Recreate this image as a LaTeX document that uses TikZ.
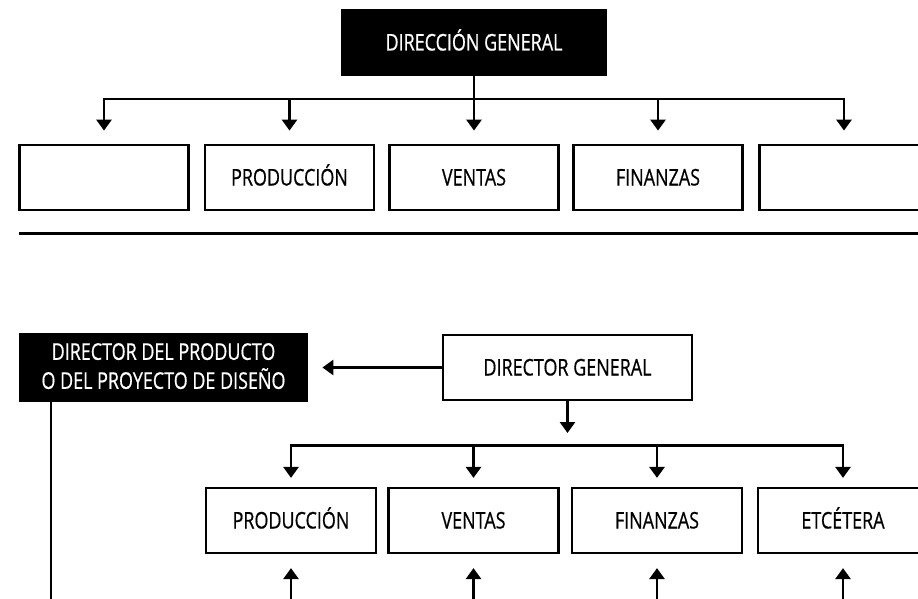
\documentclass[tikz,border=0pt]{standalone}
\usepackage{fontspec}
\setmainfont{Open Sans}[FakeStretch=0.78, FakeBold=0.6]
\usepackage{tikz}
\usetikzlibrary{arrows.meta}

\tikzset{
  marco/.style={draw, line width=2.8pt, minimum width=169pt, minimum height=65pt,
    inner sep=0pt, align=center, font=\fontsize{23}{29}\selectfont},
  caja/.style={marco, text height=16pt, text depth=0pt},
  cajanegra/.style={caja, fill=black, text=white},
  flecha/.style={line width=2.8pt, -{Triangle[width=15pt,length=11pt]}},
  linea/.style={line width=2.8pt, line cap=rect}
}

\begin{document}
\begin{tikzpicture}[x=1pt,y=1pt]

\useasboundingbox (0,0) rectangle (918,-599);
\clip (0,0) rectangle (918,-599);

% arriba
\node[cajanegra, minimum width=264pt] (direccion) at (474,-42.5) {DIRECCIÓN GENERAL};

\node[caja] (a1) at (104,-177.5) {};
\node[caja] (a2) at (289.5,-177.5) {PRODUCCIÓN};
\node[caja] (a3) at (474,-177.5) {VENTAS};
\node[caja] (a4) at (658,-177.5) {FINANZAS};
\node[caja] (a5) at (844,-177.5) {};

\coordinate (bus1) at (474,-99);

\draw[linea] (bus1 -| a1) -- (bus1 -| a5);
\draw[flecha, shorten >=13pt] (direccion) -- (a3);

\foreach \i in {1,2,4,5}
    \draw[flecha, shorten >=13pt] (bus1 -| a\i) -- (a\i);

\draw[line width=3pt] (19,-233) -- (930,-233);

% abajo
\node[caja, minimum width=249pt] (dirgral) at (567.5,-367.5) {DIRECTOR GENERAL};
\node[marco, fill=black, text=white, minimum width=287pt, minimum height=67pt,
    yshift=-3pt, text depth=3pt] (dirprod) at (163.5,-364.5)
    {DIRECTOR DEL PRODUCTO\\O DEL PROYECTO DE DISEÑO};

\node[caja, minimum width=170pt] (b1) at (291,-520.5) {PRODUCCIÓN};
\node[caja, minimum width=170pt] (b2) at (473.5,-520.5) {VENTAS};
\node[caja, minimum width=170pt] (b3) at (657,-520.5) {FINANZAS};
\node[caja, minimum width=170pt] (b4) at (843,-520.5) {ETCÉTERA};

\coordinate (bus2) at (567.5,-445.7);
\coordinate (pie0) at (51,-610);

\draw[flecha, shorten >=14pt] (dirgral) -- (dirgral -| dirprod.east);
\draw[flecha, shorten >=12.7pt] (dirgral) -- (bus2);
\draw[linea] (bus2 -| b1) -- (bus2 -| b4);

\foreach \i in {1,...,4} {
    \coordinate (pie\i) at (b\i |- pie0);
    \draw[flecha, shorten >=8.7pt] (bus2 -| b\i) -- (b\i);
    \draw[flecha, shorten >=13.7pt] (pie\i) -- (b\i);
}

\draw[linea, line cap=butt] (pie0 |- dirprod.south) -- (pie0);

\end{tikzpicture}
\end{document}
